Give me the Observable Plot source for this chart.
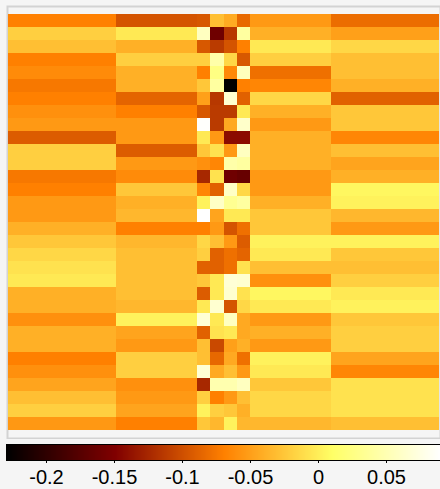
<!DOCTYPE html>
<html><head><meta charset="utf-8">
<script src="https://cdn.jsdelivr.net/npm/d3@7"></script>
<script src="https://cdn.jsdelivr.net/npm/@observablehq/plot@0.6"></script>
<style>
html,body{margin:0;padding:0;background:#f5f5f5;}
#chart svg{display:block;}
</style></head><body><div id="chart"></div>
<script>
const colEdges = [0, 8, 14, 15, 16, 17, 18, 24, 32];
const rowIds = [1,2,3,4,5,6,7,8,9,10,11,12,13,14,15,16,17,18,19,20,21,22,23,24,25,26,27,28,29,30,31,32];
const col1 = [-0.070,-0.020,-0.030,-0.070,-0.063,-0.075,-0.070,-0.060,-0.054,-0.092,-0.020,-0.020,-0.075,-0.070,-0.054,-0.054,-0.040,-0.025,-0.015,-0.008,-0.004,-0.040,-0.040,-0.060,-0.040,-0.040,-0.070,-0.060,-0.047,-0.030,-0.020,-0.055];
const col2 = [-0.097,-0.004,-0.040,-0.020,-0.040,-0.040,-0.087,-0.070,-0.054,-0.054,-0.092,-0.054,-0.063,-0.025,-0.040,-0.035,-0.070,-0.035,-0.030,-0.030,-0.030,-0.030,-0.035,0.002,-0.047,-0.054,-0.020,-0.020,-0.060,-0.054,-0.047,-0.070];
const col3 = [-0.095,0.057,-0.095,-0.020,-0.070,-0.025,-0.050,-0.095,0.088,-0.004,-0.025,-0.060,-0.125,-0.066,0.002,0.0897,-0.070,-0.015,-0.020,-0.089,-0.025,-0.092,-0.004,0.068,-0.089,-0.030,-0.030,0.068,-0.125,-0.020,0.002,-0.025];
const col4 = [-0.030,-0.160,-0.113,0.045,0.025,0.040,-0.115,-0.113,-0.113,-0.054,-0.008,-0.066,-0.008,-0.089,0.060,-0.047,-0.054,-0.030,-0.089,-0.089,-0.004,-0.004,0.065,-0.004,-0.008,-0.104,-0.085,-0.044,0.048,-0.070,-0.020,-0.035];
const col5 = [-0.043,-0.115,-0.097,-0.015,-0.064,-0.2294,0.065,-0.113,-0.044,-0.143,-0.054,0.045,-0.160,0.060,0.033,-0.004,-0.097,-0.054,-0.080,-0.080,0.068,0.065,-0.097,0.057,-0.004,-0.050,-0.044,-0.030,0.048,-0.054,-0.025,0.002];
const col6 = [-0.084,0.040,-0.070,-0.095,0.055,-0.070,-0.089,-0.004,0.062,-0.143,0.057,0.040,-0.165,-0.015,0.040,-0.004,-0.080,-0.092,-0.087,-0.008,0.065,-0.008,-0.015,-0.044,-0.044,-0.040,-0.080,-0.054,0.057,-0.030,-0.040,-0.035];
const col7 = [-0.054,-0.040,-0.004,-0.020,-0.080,-0.066,-0.015,-0.040,-0.054,-0.040,-0.040,-0.040,-0.054,-0.054,-0.040,-0.025,-0.025,0.002,-0.004,-0.030,-0.060,0.005,-0.004,-0.054,-0.040,-0.054,0.002,-0.004,-0.025,-0.015,-0.015,-0.035];
const col8 = [-0.082,-0.050,-0.015,-0.030,-0.030,-0.040,-0.089,-0.025,-0.025,-0.066,-0.030,-0.047,-0.040,0.005,0.002,-0.035,-0.054,0.002,-0.025,-0.030,-0.020,-0.004,0.002,-0.025,-0.020,-0.020,-0.047,-0.066,-0.008,-0.008,-0.008,-0.030];
const tickValues = [-0.2, -0.15, -0.1, -0.05, 0, 0.05];
const tickLabels = ["-0.2", "-0.15", "-0.1", "-0.05", "0", "0.05"];
const palette = ["#000000", "#800000", "#ff8000", "#ffff66", "#ffffff"];

const columns = [col1, col2, col3, col4, col5, col6, col7, col8];
const cells = [];
columns.forEach((col, j) => col.forEach((v, i) => cells.push({row: rowIds[i], x1: colEdges[j], x2: colEdges[j + 1], value: v})));
const extent = d3.extent(cells, d => d.value);
const interp = d3.piecewise(d3.interpolateRgb, palette);
const colorOpts = {type: "linear", domain: extent, interpolate: interp};

const main = Plot.plot({
  width: 440, height: 439,
  marginLeft: 8, marginRight: 1, marginTop: 7, marginBottom: 2,
  x: {domain: [colEdges[0], colEdges[colEdges.length - 1]], axis: null},
  y: {type: "band", domain: rowIds, axis: null, padding: 0},
  color: colorOpts,
  style: {background: "transparent"},
  marks: [
    Plot.frame({stroke: "#d3d3d3", strokeWidth: 2, inset: -1}),
    Plot.barX(cells, {x1: "x1", x2: "x2", y: "row", fill: "value", shapeRendering: "crispEdges"})
  ]
});

const bar = Plot.plot({
  width: 440, height: 50,
  marginLeft: 6, marginRight: 0, marginTop: 5, marginBottom: 29,
  x: {domain: extent, label: null},
  y: {domain: [0, 1], axis: null},
  color: colorOpts,
  style: {fontFamily: "'Liberation Sans', Arial, sans-serif", color: "black", background: "transparent"},
  marks: [
    Plot.raster({fill: (x, y) => x, x1: extent[0], x2: extent[1], y1: 0, y2: 1, width: 434, height: 1}),
    Plot.frame({stroke: "black", strokeWidth: 1}),
    Plot.axisX(tickValues, {tickFormat: d => tickLabels[tickValues.indexOf(d)], tickSize: 3, tickPadding: 6, fontSize: 20, label: null})
  ]
});

document.getElementById("chart").append(main, bar);
</script>
</body></html>
